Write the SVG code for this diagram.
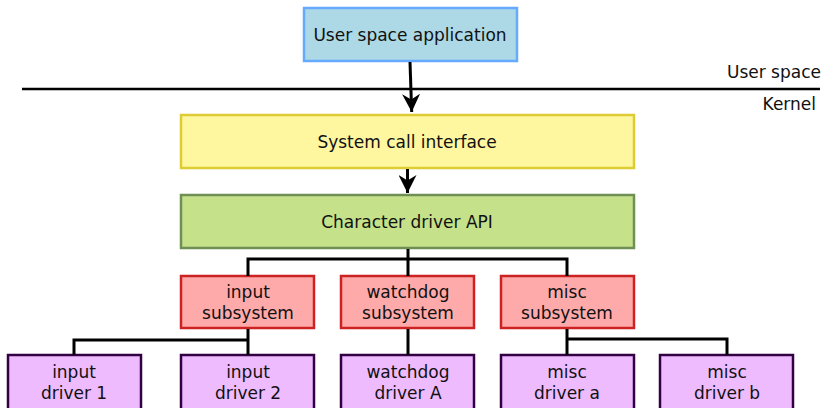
<svg xmlns="http://www.w3.org/2000/svg" width="825" height="408" viewBox="0 0 825 408">
<defs>
<style>
text{font-family:"DejaVu Sans","Liberation Sans",sans-serif;font-size:17px;fill:#111;text-anchor:middle}
.box{stroke-width:2.5}
.app{fill:#add8e6;stroke:#66aaff}
.sci{fill:#fff6a0;stroke:#ddcc33}
.api{fill:#c5e28a;stroke:#6f8f55}
.sub{fill:#ffaaaa;stroke:#cc2222}
.drv{fill:#eebbff;stroke:#330044}
.conn{fill:none;stroke:#000;stroke-width:3}
</style>
<marker id="ah" viewBox="0 0 10 10" refX="10" refY="5" markerWidth="6" markerHeight="6" orient="auto" markerUnits="strokeWidth">
<path d="M0,0 L10,5 L0,10 L3,5 Z" fill="#000"/>
</marker>
</defs>
<rect width="825" height="408" fill="#fff"/>
<line x1="22" y1="89" x2="820" y2="89" stroke="#000" stroke-width="2.5"/>
<text x="821" y="78" style="text-anchor:end">User space</text>
<text x="816" y="110" style="text-anchor:end">Kernel</text>
<g id="app"><rect class="box app" x="304" y="8" width="213" height="53"/><text x="410" y="41">User space application</text></g>
<g id="sci"><rect class="box sci" x="181" y="115" width="453" height="53"/><text x="407" y="148">System call interface</text></g>
<g id="api"><rect class="box api" x="181" y="195" width="453" height="53"/><text x="407" y="228">Character driver API</text></g>
<g id="sub-input"><rect class="box sub" x="181" y="276" width="133" height="52"/><text x="248" y="298">input</text><text x="248" y="319">subsystem</text></g>
<g id="sub-watchdog"><rect class="box sub" x="341" y="276" width="133" height="52"/><text x="408" y="298">watchdog</text><text x="408" y="319">subsystem</text></g>
<g id="sub-misc"><rect class="box sub" x="501" y="276" width="133" height="52"/><text x="567" y="298">misc</text><text x="567" y="319">subsystem</text></g>
<g id="drv-input1"><rect class="box drv" x="8" y="355" width="133" height="56"/><text x="74" y="378">input</text><text x="74" y="399">driver 1</text></g>
<g id="drv-input2"><rect class="box drv" x="181" y="355" width="133" height="56"/><text x="248" y="378">input</text><text x="248" y="399">driver 2</text></g>
<g id="drv-watchdogA"><rect class="box drv" x="341" y="355" width="133" height="56"/><text x="408" y="378">watchdog</text><text x="408" y="399">driver A</text></g>
<g id="drv-misca"><rect class="box drv" x="501" y="355" width="133" height="56"/><text x="567" y="378">misc</text><text x="567" y="399">driver a</text></g>
<g id="drv-miscb"><rect class="box drv" x="660" y="355" width="133" height="56"/><text x="727" y="378">misc</text><text x="727" y="399">driver b</text></g>
<g id="connectors">
<line class="conn" x1="410" y1="62" x2="411.7" y2="112" marker-end="url(#ah)"/>
<line class="conn" x1="407.5" y1="169" x2="407.5" y2="193" marker-end="url(#ah)"/>
<path class="conn" d="M408,249 V259 M248,276 V259 H567 V276 M408,259 V276"/>
<path class="conn" d="M248,329 V340 M74,355 V340 H248 V355"/>
<path class="conn" d="M408,329 V355"/>
<path class="conn" d="M567,329 V355 M567,339 H727 V355"/>
</g>
</svg>
